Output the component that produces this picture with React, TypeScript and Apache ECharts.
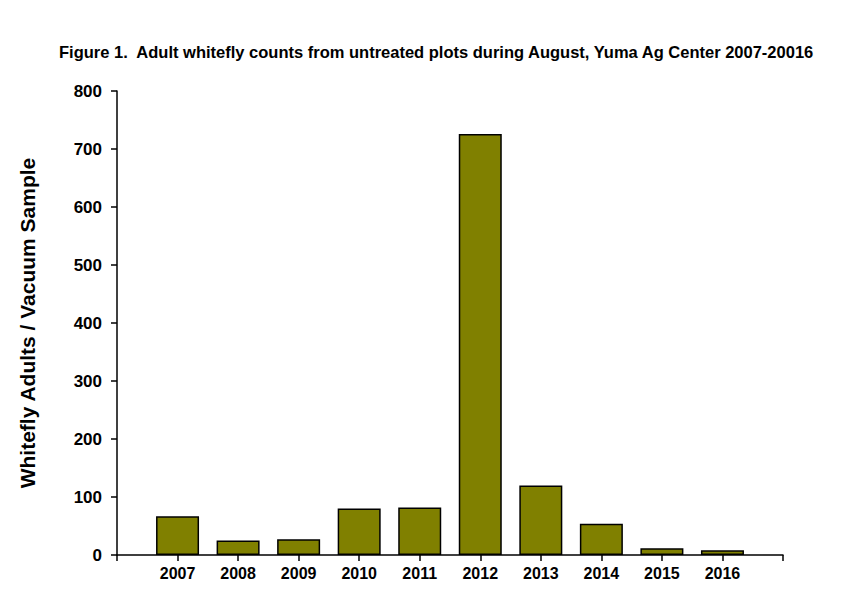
import React, { useEffect, useRef } from "react";
import * as echarts from "echarts";

const years = ["2006", "2007", "2008", "2009", "2010", "2011", "2012", "2013", "2014", "2015", "2016", "2017"];
const shownYears = ["2007", "2008", "2009", "2010", "2011", "2012", "2013", "2014", "2015", "2016"];
const counts = [null, 67, 25, 27, 80, 82, 726, 120, 54, 11.5, 8, null];
const yTicks = [0, 100, 200, 300, 400, 500, 600, 700, 800];
const titleText =
  "Figure 1.  Adult whitefly counts from untreated plots during August, Yuma Ag Center 2007-20016";
const yName = "Whitefly Adults / Vacuum Sample";

const FONT = "'Liberation Sans', Arial, sans-serif";

export default function App() {
  const ref = useRef<HTMLDivElement>(null);
  useEffect(() => {
    if (!ref.current) return;
    const chart = echarts.init(ref.current, null, { renderer: "svg" });
    chart.setOption({
      animation: false,
      backgroundColor: "#ffffff",
      title: {
        text: titleText,
        left: 54,
        top: 38,
        textStyle: { fontFamily: FONT, fontWeight: "bold", fontSize: 16.5, color: "#000" },
      },
      grid: { left: 117, right: 64, top: 91, bottom: 41, containLabel: false },
      xAxis: {
        type: "category",
        data: years,
        boundaryGap: false,
        axisLine: { show: true, onZero: false, lineStyle: { color: "#000", width: 1.5 } },
        axisTick: { show: true, interval: 0, length: 6, lineStyle: { color: "#000", width: 1.5 } },
        splitLine: { show: false },
        axisLabel: {
          interval: 0,
          margin: 10,
          fontFamily: FONT,
          fontWeight: "bold",
          fontSize: 16,
          color: "#000",
          formatter: (v: string) => (shownYears.includes(v) ? v : ""),
        },
      },
      yAxis: {
        type: "value",
        min: yTicks[0],
        max: yTicks[yTicks.length - 1],
        interval: 100,
        name: yName,
        nameLocation: "middle",
        nameGap: 79,
        nameTextStyle: { fontFamily: FONT, fontWeight: "bold", fontSize: 21, color: "#000" },
        axisLine: { show: true, lineStyle: { color: "#000", width: 1.5 } },
        axisTick: { show: true, length: 6, lineStyle: { color: "#000", width: 1.5 } },
        splitLine: { show: false },
        axisLabel: {
          margin: 15,
          fontFamily: FONT,
          fontWeight: "bold",
          fontSize: 17,
          color: "#000",
        },
      },
      series: [
        {
          type: "bar",
          data: counts,
          barWidth: 43,
          itemStyle: { color: "#808000", borderColor: "#000", borderWidth: 1.5 },
        },
      ],
    });
    return () => chart.dispose();
  }, []);
  return (
    <div
      ref={ref}
      style={{ position: "fixed", left: 0, top: 0, width: 847, height: 596 }}
    />
  );
}
